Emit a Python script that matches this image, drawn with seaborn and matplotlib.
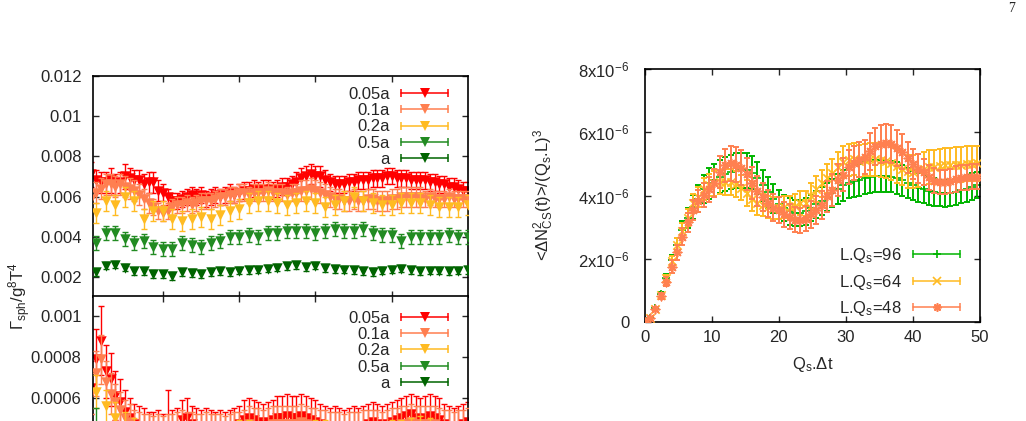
import numpy as np
import matplotlib
matplotlib.use('Agg')
import matplotlib.pyplot as plt
import seaborn as sns
from matplotlib.legend_handler import HandlerBase
from matplotlib.lines import Line2D

sns.set_style('ticks')
plt.rcParams['font.family'] = ['Liberation Sans', 'DejaVu Sans']
plt.rcParams['mathtext.default'] = 'regular'
plt.rcParams['font.size'] = 12

# ---------------- left panels: rate vs (unlabelled) x ----------------
x_fine = np.arange(1, 81) * 0.0625     # 0.05a, 0.1a
x_coarse = np.arange(1, 41) * 0.125    # 0.2a, 0.5a, a

labels_left = ['0.05a', '0.1a', '0.2a', '0.5a', 'a']
colors_left = ['#ff0000', '#ff7f50', '#ffbb22', '#228b22', '#006400']

# top panel values (units 1e-3)
red_top = [7.1, 6.8, 6.7, 6.7, 6.8, 6.6, 6.7, 7.0, 6.9, 6.8,
           6.8, 6.6, 6.7, 6.7, 6.3, 6.2, 6.0, 5.8, 5.8, 5.9,
           6.0, 6.1, 6.0, 6.1, 5.9, 6.0, 6.1, 6.0, 6.1, 6.2,
           6.1, 6.2, 6.3, 6.3, 6.4, 6.3, 6.4, 6.4, 6.3, 6.4,
           6.5, 6.5, 6.6, 6.7, 6.9, 7.0, 7.1, 7.0, 7.0, 6.8,
           6.7, 6.6, 6.6, 6.6, 6.7, 6.7, 6.8, 6.8, 6.8, 6.9,
           6.9, 6.9, 7.0, 7.0, 6.9, 6.9, 6.9, 6.8, 6.8, 6.8,
           6.8, 6.7, 6.7, 6.6, 6.6, 6.5, 6.5, 6.4, 6.3, 6.3]
red_top_err = [0.6, 0.5, 0.5, 0.5, 0.6, 0.5, 0.5, 0.6, 0.5, 0.5,
               0.5, 0.5, 0.5, 0.5, 0.5, 0.4, 0.4, 0.4, 0.4, 0.4,
               0.4, 0.4, 0.4, 0.4, 0.4, 0.4, 0.4, 0.4, 0.4, 0.4,
               0.4, 0.4, 0.4, 0.4, 0.4, 0.4, 0.4, 0.4, 0.4, 0.4,
               0.4, 0.4, 0.4, 0.5, 0.5, 0.5, 0.5, 0.5, 0.5, 0.5,
               0.4, 0.4, 0.4, 0.4, 0.4, 0.4, 0.4, 0.4, 0.4, 0.4,
               0.4, 0.4, 0.4, 0.4, 0.4, 0.4, 0.4, 0.4, 0.4, 0.4,
               0.4, 0.4, 0.4, 0.4, 0.4, 0.4, 0.4, 0.4, 0.4, 0.4]
salmon_top = [5.9, 6.2, 6.4, 6.6, 6.6, 6.5, 6.6, 6.5, 6.4, 6.3,
              6.1, 5.9, 5.7, 5.5, 5.3, 5.2, 5.3, 5.5, 5.6, 5.6,
              5.7, 5.6, 5.7, 5.8, 5.8, 5.8, 5.9, 6.0, 6.0, 6.1,
              6.1, 6.2, 6.2, 6.1, 6.2, 6.2, 6.2, 6.3, 6.2, 6.2,
              6.2, 6.1, 6.2, 6.2, 6.3, 6.3, 6.4, 6.3, 6.2, 6.1,
              6.0, 5.9, 5.9, 5.8, 5.8, 5.9, 5.8, 5.8, 5.9, 5.9,
              5.8, 5.8, 5.8, 5.9, 5.9, 6.0, 6.0, 6.0, 6.0, 6.0,
              5.9, 6.0, 5.9, 5.9, 5.9, 6.0, 5.9, 5.9, 5.9, 5.9]
salmon_top_err = [0.5, 0.5, 0.5, 0.5, 0.5, 0.5, 0.5, 0.5, 0.5, 0.5,
                  0.5, 0.5, 0.5, 0.4, 0.4, 0.4, 0.4, 0.4, 0.4, 0.4,
                  0.4, 0.4, 0.4, 0.4, 0.4, 0.4, 0.4, 0.4, 0.4, 0.4,
                  0.4, 0.4, 0.4, 0.4, 0.4, 0.4, 0.4, 0.4, 0.4, 0.4,
                  0.4, 0.4, 0.4, 0.4, 0.5, 0.5, 0.5, 0.5, 0.5, 0.5,
                  0.5, 0.5, 0.5, 0.5, 0.5, 0.5, 0.5, 0.5, 0.5, 0.5,
                  0.5, 0.5, 0.5, 0.5, 0.5, 0.5, 0.5, 0.5, 0.5, 0.5,
                  0.4, 0.4, 0.4, 0.4, 0.4, 0.4, 0.4, 0.4, 0.4, 0.4]
yellow_top = [5.2, 5.8, 5.6, 6.0, 5.8, 4.9, 5.3, 5.3, 4.9, 4.8,
              4.9, 5.0, 4.9, 5.1, 5.3, 5.4, 5.7, 5.8, 5.8, 5.7,
              5.6, 5.7, 5.8, 5.7, 5.5, 5.6, 5.8, 6.0, 5.8, 5.7,
              5.6, 5.6, 5.7, 5.7, 5.7, 5.6, 5.5, 5.5, 5.5, 5.6]
yellow_top_err = [0.5, 0.5, 0.5, 0.5, 0.5, 0.5, 0.5, 0.5, 0.5, 0.5,
                  0.5, 0.5, 0.5, 0.5, 0.5, 0.5, 0.5, 0.5, 0.5, 0.5,
                  0.5, 0.5, 0.5, 0.5, 0.5, 0.5, 0.5, 0.5, 0.5, 0.5,
                  0.5, 0.5, 0.5, 0.5, 0.5, 0.5, 0.5, 0.5, 0.5, 0.5]
green_top = [3.7, 4.2, 4.2, 3.9, 3.7, 3.8, 3.5, 3.4, 3.4, 3.7,
             3.6, 3.5, 3.7, 3.8, 4.0, 4.0, 4.1, 4.0, 4.2, 4.2,
             4.3, 4.3, 4.3, 4.2, 4.3, 4.4, 4.3, 4.3, 4.4, 4.2,
             4.1, 4.1, 3.8, 4.0, 4.0, 4.0, 4.0, 4.1, 4.0, 4.0]
green_top_err = [0.35, 0.35, 0.35, 0.35, 0.35, 0.35, 0.35, 0.35, 0.35, 0.35,
                 0.35, 0.35, 0.35, 0.35, 0.35, 0.35, 0.35, 0.35, 0.35, 0.35,
                 0.35, 0.35, 0.35, 0.35, 0.35, 0.35, 0.35, 0.35, 0.35, 0.35,
                 0.35, 0.35, 0.35, 0.35, 0.35, 0.35, 0.35, 0.35, 0.35, 0.35]
dkgreen_top = [2.22, 2.55, 2.60, 2.45, 2.28, 2.28, 2.15, 2.12, 2.05, 2.22,
               2.20, 2.15, 2.25, 2.28, 2.25, 2.30, 2.32, 2.35, 2.40, 2.45,
               2.52, 2.58, 2.48, 2.55, 2.43, 2.38, 2.35, 2.32, 2.28, 2.25,
               2.30, 2.35, 2.40, 2.32, 2.28, 2.30, 2.30, 2.28, 2.30, 2.32]
dkgreen_top_err = [0.18, 0.18, 0.18, 0.18, 0.18, 0.18, 0.18, 0.18, 0.18, 0.18,
                   0.18, 0.18, 0.18, 0.18, 0.18, 0.18, 0.18, 0.18, 0.18, 0.18,
                   0.18, 0.18, 0.18, 0.18, 0.18, 0.18, 0.18, 0.18, 0.18, 0.18,
                   0.18, 0.18, 0.18, 0.18, 0.18, 0.18, 0.18, 0.18, 0.18, 0.18]

# bottom panel values (units 1e-4)
red_bot = [6.5, 7.9, 8.8, 7.3, 6.9, 6.1, 5.8, 5.3, 5.0, 4.7,
           4.6, 4.5, 4.4, 4.4, 4.5, 4.3, 4.6, 4.5, 4.6, 4.9,
           5.0, 4.7, 4.6, 4.5, 4.6, 4.5, 4.4, 4.5, 4.4, 4.5,
           4.6, 4.7, 4.9, 5.0, 4.9, 4.8, 4.7, 4.8, 4.9, 5.0,
           5.0, 5.1, 5.0, 5.0, 5.1, 5.0, 4.9, 4.8, 4.7, 4.6,
           4.5, 4.6, 4.5, 4.4, 4.5, 4.6, 4.5, 4.6, 4.7, 4.8,
           4.7, 4.6, 4.7, 4.8, 4.9, 5.0, 5.1, 5.2, 5.0, 4.9,
           5.0, 5.1, 5.0, 4.9, 4.7, 4.6, 4.5, 4.6, 4.7, 4.8]
red_bot_err = [1.3, 1.5, 1.7, 1.3, 1.3, 1.2, 1.1, 1.1, 1.0, 1.0,
               1.0, 1.0, 0.9, 0.9, 0.9, 0.9, 1.8, 0.9, 0.9, 1.0,
               1.0, 0.9, 0.9, 0.9, 0.9, 0.9, 0.9, 0.9, 0.9, 0.9,
               0.9, 0.9, 1.0, 1.0, 1.0, 1.0, 1.0, 1.0, 1.0, 1.1,
               1.1, 1.1, 1.1, 1.1, 1.1, 1.1, 1.1, 1.1, 1.0, 1.0,
               1.0, 1.0, 1.0, 1.0, 1.0, 1.0, 1.0, 1.0, 1.0, 1.0,
               1.0, 1.0, 1.0, 1.0, 1.0, 1.0, 1.0, 1.0, 1.1, 1.1,
               1.1, 1.1, 1.1, 1.1, 1.0, 1.0, 1.0, 1.0, 1.0, 1.0]
salmon_bot = [6.2, 7.2, 7.9, 6.8, 6.2, 5.8, 5.4, 5.0, 4.8, 4.6,
              4.5, 4.4, 4.4, 4.3, 4.4, 4.3, 4.4, 4.4, 4.5, 4.6,
              4.5, 4.5, 4.4, 4.4, 4.5, 4.4, 4.4, 4.4, 4.3, 4.4,
              4.5, 4.5, 4.6, 4.7, 4.6, 4.6, 4.5, 4.6, 4.7, 4.7,
              4.7, 4.7, 4.7, 4.7, 4.8, 4.7, 4.6, 4.6, 4.5, 4.5,
              4.4, 4.4, 4.4, 4.3, 4.4, 4.4, 4.4, 4.5, 4.5, 4.5,
              4.5, 4.4, 4.5, 4.6, 4.6, 4.7, 4.7, 4.8, 4.7, 4.7,
              4.7, 4.7, 4.7, 4.6, 4.5, 4.5, 4.4, 4.5, 4.5, 4.6]
salmon_bot_err = [1.0, 1.1, 1.2, 1.0, 1.0, 0.9, 0.9, 0.9, 0.9, 0.8,
                  0.8, 0.8, 0.8, 0.8, 0.8, 0.8, 0.8, 0.8, 0.8, 0.8,
                  0.8, 0.8, 0.8, 0.8, 0.8, 0.8, 0.8, 0.8, 0.8, 0.8,
                  0.8, 0.8, 0.8, 0.9, 0.9, 0.9, 0.9, 0.9, 0.9, 0.9,
                  0.9, 0.9, 0.9, 0.9, 0.9, 0.9, 0.9, 0.9, 0.9, 0.9,
                  0.9, 0.9, 0.9, 0.9, 0.9, 0.9, 0.9, 0.9, 0.9, 0.9,
                  0.9, 0.9, 0.9, 0.9, 0.9, 0.9, 0.9, 0.9, 0.9, 0.9,
                  0.9, 0.9, 0.9, 0.9, 0.9, 0.9, 0.9, 0.9, 0.9, 0.9]
yellow_bot = [6.3, 5.6, 5.0, 4.6, 4.3, 4.1, 4.0, 4.0, 3.9, 3.9,
              3.9, 4.0, 4.0, 4.1, 4.1, 4.2, 4.2, 4.1, 4.1, 4.0,
              4.0, 4.1, 4.1, 4.2, 4.2, 4.1, 4.1, 4.0, 4.0, 4.1,
              4.1, 4.2, 4.2, 4.3, 4.3, 4.2, 4.1, 4.1, 4.0, 4.0]
yellow_bot_err = [0.8, 0.8, 0.8, 0.7, 0.7, 0.7, 0.7, 0.7, 0.7, 0.7,
                  0.7, 0.7, 0.7, 0.7, 0.7, 0.7, 0.7, 0.7, 0.7, 0.7,
                  0.7, 0.7, 0.7, 0.7, 0.7, 0.7, 0.7, 0.7, 0.7, 0.7,
                  0.7, 0.7, 0.7, 0.7, 0.8, 0.8, 0.7, 0.7, 0.7, 0.7]
green_bot = [4.2, 3.6, 3.3, 3.1, 3.0, 3.0, 2.9, 2.9, 2.9, 2.9,
             2.9, 2.9, 3.0, 3.0, 3.0, 3.0, 3.1, 3.1, 3.1, 3.1,
             3.1, 3.1, 3.1, 3.1, 3.1, 3.1, 3.1, 3.1, 3.1, 3.0,
             3.0, 3.0, 3.0, 3.0, 3.0, 3.0, 3.0, 3.0, 3.0, 3.0]
green_bot_err = [1.3, 0.6, 0.5, 0.5, 0.5, 0.5, 0.5, 0.5, 0.5, 0.5,
                 0.5, 0.5, 0.5, 0.5, 0.5, 0.5, 0.5, 0.5, 0.5, 0.5,
                 0.5, 0.5, 0.5, 0.5, 0.5, 0.5, 0.5, 0.5, 0.5, 0.5,
                 0.5, 0.5, 0.5, 0.5, 0.5, 0.5, 0.5, 0.5, 0.5, 0.5]
dkgreen_bot = [2.2, 2.1, 2.0, 2.0, 2.0, 2.0, 2.0, 2.0, 2.0, 2.0,
               2.0, 2.0, 2.0, 2.0, 2.0, 2.0, 2.0, 2.0, 2.0, 2.0,
               2.0, 2.0, 2.0, 2.0, 2.0, 2.0, 2.0, 2.0, 2.0, 2.0,
               2.0, 2.0, 2.0, 2.0, 2.0, 2.0, 2.0, 2.0, 2.0, 2.0]
dkgreen_bot_err = [0.3, 0.3, 0.3, 0.3, 0.3, 0.3, 0.3, 0.3, 0.3, 0.3,
                   0.3, 0.3, 0.3, 0.3, 0.3, 0.3, 0.3, 0.3, 0.3, 0.3,
                   0.3, 0.3, 0.3, 0.3, 0.3, 0.3, 0.3, 0.3, 0.3, 0.3,
                   0.3, 0.3, 0.3, 0.3, 0.3, 0.3, 0.3, 0.3, 0.3, 0.3]

# ---------------- right panel: <dN_CS^2> vs Q_s.dt (units 1e-6) ----------------
dt = np.arange(63) * 0.8
labels_right = ['L.Q$_s$=96', 'L.Q$_s$=64', 'L.Q$_s$=48']
colors_right = ['#00b400', '#ffbb22', '#ff8050']
markers_right = ['+', 'x', (8, 2, 0)]

n96 = [0.00, 0.13, 0.43, 0.88, 1.40, 1.95, 2.45, 2.90, 3.30, 3.65,
       3.90, 4.20, 4.38, 4.50, 4.60, 4.68, 4.74, 4.78, 4.80, 4.80,
       4.72, 4.55, 4.32, 4.10, 3.90, 3.72, 3.60, 3.50, 3.45, 3.45,
       3.50, 3.60, 3.72, 3.82, 3.95, 4.08, 4.20, 4.32, 4.40, 4.46,
       4.50, 4.55, 4.59, 4.61, 4.62, 4.61, 4.60, 4.55, 4.48, 4.40,
       4.32, 4.25, 4.20, 4.15, 4.11, 4.08, 4.07, 4.08, 4.12, 4.17,
       4.22, 4.28, 4.33]
n96_err = [0.01, 0.03, 0.05, 0.08, 0.12, 0.18, 0.22, 0.28, 0.32, 0.38,
           0.42, 0.45, 0.48, 0.50, 0.52, 0.55, 0.55, 0.55, 0.55, 0.55,
           0.52, 0.50, 0.50, 0.48, 0.45, 0.45, 0.42, 0.42, 0.42, 0.42,
           0.42, 0.42, 0.42, 0.45, 0.45, 0.45, 0.48, 0.48, 0.48, 0.50,
           0.50, 0.50, 0.50, 0.50, 0.50, 0.50, 0.50, 0.50, 0.48, 0.48,
           0.45, 0.45, 0.45, 0.45, 0.45, 0.42, 0.42, 0.42, 0.42, 0.42,
           0.42, 0.42, 0.42]
n64 = [0.00, 0.13, 0.42, 0.85, 1.38, 1.92, 2.45, 2.88, 3.30, 3.75,
       3.95, 4.20, 4.32, 4.38, 4.43, 4.43, 4.43, 4.36, 4.25, 4.08,
       3.88, 3.76, 3.70, 3.65, 3.60, 3.60, 3.63, 3.63, 3.68, 3.75,
       3.75, 3.98, 4.20, 4.38, 4.54, 4.70, 4.90, 5.05, 5.12, 5.15,
       5.10, 5.13, 5.15, 5.15, 5.12, 5.08, 5.02, 4.92, 4.85, 4.76,
       4.75, 4.80, 4.85, 4.90, 4.90, 4.92, 4.95, 4.95, 4.97, 4.98,
       5.00, 5.00, 5.02]
n64_err = [0.01, 0.03, 0.05, 0.08, 0.12, 0.16, 0.20, 0.25, 0.28, 0.30,
           0.32, 0.35, 0.35, 0.38, 0.38, 0.40, 0.40, 0.40, 0.40, 0.40,
           0.38, 0.38, 0.36, 0.35, 0.35, 0.35, 0.35, 0.36, 0.38, 0.38,
           0.40, 0.40, 0.42, 0.42, 0.45, 0.45, 0.48, 0.50, 0.50, 0.50,
           0.50, 0.50, 0.52, 0.52, 0.52, 0.52, 0.52, 0.52, 0.52, 0.52,
           0.52, 0.52, 0.52, 0.55, 0.55, 0.55, 0.55, 0.55, 0.55, 0.55,
           0.55, 0.55, 0.55]
n48 = [0.00, 0.13, 0.41, 0.82, 1.28, 1.75, 2.20, 2.70, 3.15, 3.55,
       3.82, 4.02, 4.20, 4.40, 4.75, 4.95, 5.02, 4.98, 4.88, 4.68,
       4.40, 4.15, 3.96, 3.75, 3.62, 3.54, 3.40, 3.33, 3.24, 3.22,
       3.27, 3.40, 3.55, 3.70, 3.97, 4.18, 4.50, 4.65, 4.90, 5.03,
       5.13, 5.22, 5.40, 5.55, 5.62, 5.65, 5.62, 5.50, 5.38, 5.20,
       5.00, 4.85, 4.74, 4.57, 4.47, 4.43, 4.43, 4.47, 4.52, 4.56,
       4.58, 4.59, 4.60]
n48_err = [0.02, 0.04, 0.06, 0.10, 0.15, 0.20, 0.25, 0.28, 0.30, 0.32,
           0.35, 0.38, 0.40, 0.45, 0.50, 0.52, 0.55, 0.55, 0.55, 0.52,
           0.50, 0.48, 0.45, 0.43, 0.42, 0.40, 0.40, 0.40, 0.40, 0.40,
           0.40, 0.42, 0.45, 0.45, 0.48, 0.50, 0.50, 0.52, 0.55, 0.55,
           0.55, 0.55, 0.58, 0.60, 0.60, 0.60, 0.60, 0.58, 0.55, 0.50,
           0.48, 0.45, 0.42, 0.40, 0.40, 0.38, 0.38, 0.38, 0.40, 0.40,
           0.40, 0.40, 0.40]


class ErrHandler(HandlerBase):
    # gnuplot-like key sample: horizontal bar with end caps, point in the middle
    def create_artists(self, legend, orig, xd, yd, width, height, fontsize, trans):
        y = height / 2 - yd
        x0, x1 = -xd, width - xd
        c = orig.get_color()
        bar = Line2D([x0, x1], [y, y], color=c, lw=1.1)
        caps = Line2D([x0, x1], [y, y], ls='none', marker='|', ms=6, mew=1.1, color=c)
        mid = Line2D([(x0 + x1) / 2], [y], ls='none', marker=orig.get_marker(),
                     ms=orig.get_markersize(), mew=orig.get_markeredgewidth(), color=c)
        for a in (bar, caps, mid):
            a.set_transform(trans)
        return [bar, caps, mid]


def style_axis(ax):
    ax.tick_params(direction='in', top=True, right=True, length=4, width=1, labelsize=12)
    for s in ax.spines.values():
        s.set_linewidth(1.2)
        s.set_color('black')


def draw_series(ax, x, y, e, color, marker, ms, mew, z, elw=1.0):
    ax.errorbar(x, y, yerr=e, fmt='none', ecolor=color, elinewidth=elw,
                capsize=2.5, capthick=elw, zorder=z)
    sns.scatterplot(x=x, y=y, ax=ax, marker=marker, s=ms ** 2, color=color,
                    edgecolor=color, linewidth=mew, legend=False, zorder=z + 0.5)


W, H = 1026, 421
fig = plt.figure(figsize=(W / 100, H / 100), dpi=100)

ax_top = fig.add_axes([92.7 / W, (H - 297) / H, (468 - 92.7) / W, (297 - 76) / H])
ax_bot = fig.add_axes([92.7 / W, (H - 520) / H, (468 - 92.7) / W, (520 - 296) / H])
ax_r = fig.add_axes([644.7 / W, (H - 322) / H, (980 - 644.7) / W, (322 - 69) / H])

top_sets = [(x_fine, red_top, red_top_err), (x_fine, salmon_top, salmon_top_err),
            (x_coarse, yellow_top, yellow_top_err), (x_coarse, green_top, green_top_err),
            (x_coarse, dkgreen_top, dkgreen_top_err)]
bot_sets = [(x_fine, red_bot, red_bot_err), (x_fine, salmon_bot, salmon_bot_err),
            (x_coarse, yellow_bot, yellow_bot_err), (x_coarse, green_bot, green_bot_err),
            (x_coarse, dkgreen_bot, dkgreen_bot_err)]

for ax, sets, scale in ((ax_top, top_sets, 1e-3), (ax_bot, bot_sets, 1e-4)):
    for i, ((x, y, e), c) in enumerate(zip(sets, colors_left)):
        draw_series(ax, x, np.array(y) * scale, np.array(e) * scale, c, 'v', 7.5, 0, 2 + 2 * i)
    ax.set_xlim(0.079, 5.0)
    ax.set_xticks([1, 2, 3, 4])
    ax.set_xticklabels([])
    style_axis(ax)
    handles = [Line2D([], [], color=c, marker='v', ms=7.5, mew=0) for c in colors_left]
    top_anchor = 0.951 if ax is ax_top else 0.935
    ax.legend(handles, labels_left, handler_map={Line2D: ErrHandler()}, loc='upper right',
              bbox_to_anchor=(0.947, top_anchor), frameon=False, markerfirst=False,
              handlelength=2.8, handletextpad=0.7, labelspacing=0.08, borderpad=0,
              borderaxespad=0, fontsize=12)

ax_top.set_ylim(0.001, 0.012)
top_ticks = [0.002, 0.004, 0.006, 0.008, 0.01, 0.012]
ax_top.set_yticks(top_ticks)
ax_top.set_yticklabels(['%g' % v for v in top_ticks])
ax_bot.set_ylim(0, 0.0011)
bot_ticks = [0.0006, 0.0008, 0.001]
ax_bot.set_yticks(bot_ticks)
ax_bot.set_yticklabels(['%g' % v for v in bot_ticks])
for ax in (ax_top, ax_bot):
    ax.tick_params(axis='y', pad=8)

fig.text(20 / W, 1 - 296 / H, 'Γ$_{sph}$/g$^8$T$^4$', rotation=90, ha='center', va='center',
         fontsize=12)

# right panel
for i, (y, e, c, m) in enumerate(zip([n96, n64, n48], [n96_err, n64_err, n48_err],
                                     colors_right, markers_right)):
    draw_series(ax_r, dt, np.array(y) * 1e-6, np.array(e) * 1e-6, c, m, 6, 1.2, 2 + 2 * i, elw=1.4)

ax_r.set_xlim(0, 50)
ax_r.set_ylim(0, 8e-6)
ax_r.set_xticks([0, 10, 20, 30, 40, 50])
ax_r.set_yticks([0, 2e-6, 4e-6, 6e-6, 8e-6])
ax_r.set_yticklabels(['0', '2x10$^{-6}$', '4x10$^{-6}$', '6x10$^{-6}$', '8x10$^{-6}$'])
style_axis(ax_r)
ax_r.tick_params(axis='y', pad=11)
ax_r.tick_params(axis='x', pad=6)
ax_r.set_xlabel('Q$_s$.Δt', fontsize=12, labelpad=7)
ax_r.set_ylabel('<ΔN$^2_{CS}$(t)>/(Q$_s$.L)$^3$', fontsize=12)
ax_r.yaxis.set_label_coords(-0.265, 0.5)
handles_r = [Line2D([], [], color=c, marker=m, ms=6, mew=1.2) for c, m in zip(colors_right, markers_right)]
ax_r.legend(handles_r, labels_right, handler_map={Line2D: ErrHandler()}, loc='lower right',
            bbox_to_anchor=(0.94, 0.015), frameon=False, markerfirst=False,
            handlelength=2.8, handletextpad=0.7, labelspacing=0.46, borderpad=0,
            borderaxespad=0, fontsize=12)

fig.text(1012 / W, 1 - 9 / H, '7', ha='center', va='center', fontsize=10,
         family=['Liberation Serif', 'DejaVu Serif'])

fig.savefig('out.png', dpi=100)
plt.close(fig)
